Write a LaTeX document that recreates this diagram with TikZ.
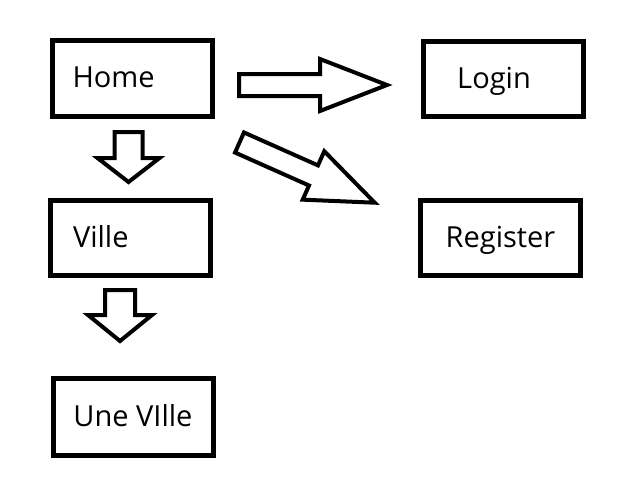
\documentclass[tikz,border=0pt]{standalone}
\usepackage{fontspec}
\setmainfont{Open Sans}
\usetikzlibrary{positioning}
\tikzset{
  page box/.style={draw=black, line width=5pt, fill=white,
    minimum width=160pt, minimum height=76pt, inner xsep=20pt,
    inner ysep=0pt, text height=18pt, text depth=0pt,
    font=\fontsize{29}{34}\selectfont},
  left page/.style={page box, text width=120pt, align=left},
  block arrow/.style={draw=black, line width=4pt, fill=white,
    line join=miter}
}
% start, angle, length, shaft half width, head half width, head length
\newcommand{\blockarrow}[6]{%
  \draw[block arrow, shift={(#1)}, rotate=#2]
    (0,-#4) -- ({#3-#6},-#4) -- ({#3-#6},-#5) -- (#3,0)
    -- ({#3-#6},#5) -- ({#3-#6},#4) -- (0,#4) -- cycle;}

\begin{document}
\begin{tikzpicture}[x=1pt, y=-1pt]
  \useasboundingbox (0,0) rectangle (638,488);
  \node[left page] (home) at (132.5,78.5) {Home};
  \node[page box, minimum height=75pt] (login) at (503,79) {\hspace*{-18pt}Login};
  \node[left page, minimum height=75pt] (ville) at (130,238) {\hspace*{3pt}Ville};
  \node[page box, minimum height=77pt] (uneville) at (133,417) {Une VIlle};
  \node[page box, minimum height=75pt] (register) at (500.5,238) {Register};

  \coordinate (hl) at (239,85);
  \coordinate (hr) at (239.5,142.5);
  \coordinate (hv) at (128.5,132);
  \coordinate (vu) at (120,290);
  \blockarrow{hl}{0}{148}{11}{26}{67}
  \blockarrow{hr}{-24}{148}{11}{26.5}{67}
  \blockarrow{hv}{-90}{50}{14}{31}{24}
  \blockarrow{vu}{-90}{51}{15}{32}{26}
\end{tikzpicture}
\end{document}
